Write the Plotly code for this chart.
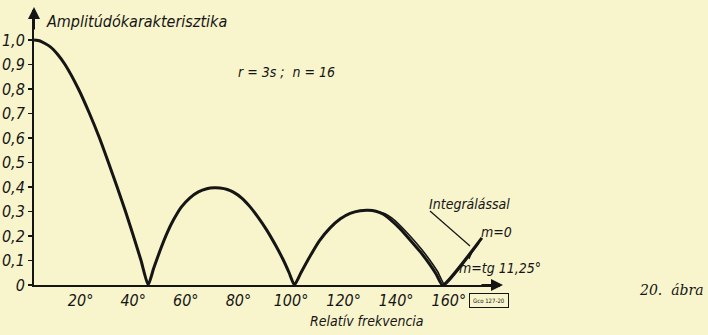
import plotly.graph_objects as go

# ---------------- data ----------------
# main curve: relative frequency (degrees) vs amplitude
main_deg = [0, 2.3, 6.1, 9.1, 11.8, 16.9, 21.1, 24.9, 28.3, 31.6, 34.8, 37.8, 40.7, 43.4,
            45.5, 47.9, 50.5, 53.0, 56.0, 59.3, 62.5, 65.7, 68.5, 70.7, 73.5, 75.8, 79.0,
            82.1, 85.3, 88.5, 91.7, 94.8, 97.0, 99.0,
            101.5, 104.9, 108.5, 112.5, 116.5, 120.2, 124.0, 127.0, 130.0, 133.0, 135.4,
            139.0, 143.0, 147.0, 150.6, 153.0, 155.3, 170.3]
main_amp = [1.0, 0.996, 0.973, 0.94, 0.90, 0.80, 0.70, 0.60, 0.50, 0.40, 0.30, 0.20, 0.10, 0.0,
            0.068, 0.14, 0.21, 0.265, 0.318, 0.356, 0.38, 0.393, 0.397, 0.396, 0.39, 0.379, 0.355,
            0.32, 0.275, 0.224, 0.165, 0.102, 0.05, 0.0,
            0.05, 0.116, 0.18, 0.232, 0.27, 0.292, 0.303, 0.305, 0.301, 0.288, 0.268,
            0.232, 0.184, 0.134, 0.082, 0.043, 0.0, 0.192]

# second curve near the third zero (Integrálással / m = tg 11,25°)
integ_deg = [131.0, 133.5, 136.0, 139.5, 143.5, 147.5, 151.0, 153.5, 156.2, 169.2]
integ_amp = [0.298, 0.291, 0.274, 0.240, 0.194, 0.144, 0.094, 0.054, 0.0, 0.171]

x_tick_vals = [20, 40, 60, 80, 100, 120, 140, 160]
x_tick_text = ["20°", "40°", "60°", "80°", "100°", "120°", "140°", "160°"]
y_tick_vals = [0, 0.1, 0.2, 0.3, 0.4, 0.5, 0.6, 0.7, 0.8, 0.9, 1.0]
y_tick_text = ["0", "0,1", "0,2", "0,3", "0,4", "0,5", "0,6", "0,7", "0,8", "0,9", "1,0"]

# ---------------- layout geometry ----------------
W_PX, H_PX = 708, 335
M_L, M_R, M_T, M_B = 34, 208, 10, 50
PLOT_W = W_PX - M_L - M_R
PLOT_H = H_PX - M_T - M_B
X_SCALE = 2.63      # px per degree
Y_SCALE = 245.0     # px per unit amplitude
X_MAX = PLOT_W / X_SCALE
Y_MAX = PLOT_H / Y_SCALE


def px(x, y):
    """pixel position (from top-left of page) -> paper coords"""
    return (x - M_L) / PLOT_W, (H_PX - M_B - y) / PLOT_H


INK = "#151515"
PAPER = "#f8f4cc"
FONT = "DejaVu Sans Condensed, Liberation Sans Narrow, DejaVu Sans, sans-serif"

fig = go.Figure()
fig.add_trace(go.Scatter(x=main_deg, y=main_amp, mode="lines",
                         line=dict(color=INK, width=3, shape="spline", smoothing=0.5),
                         hoverinfo="skip", showlegend=False))
fig.add_trace(go.Scatter(x=integ_deg, y=integ_amp, mode="lines",
                         line=dict(color=INK, width=1.6, shape="spline", smoothing=0.4),
                         hoverinfo="skip", showlegend=False))

fig.update_layout(
    width=W_PX, height=H_PX,
    margin=dict(l=M_L, r=M_R, t=M_T, b=M_B, autoexpand=False),
    paper_bgcolor=PAPER, plot_bgcolor=PAPER,
    font=dict(family=FONT, color=INK, size=15),
    showlegend=False,
)
fig.update_xaxes(range=[0, X_MAX], showgrid=False, zeroline=False,
                 showline=True, linecolor=INK, linewidth=2,
                 tickvals=x_tick_vals, ticktext=x_tick_text, ticks="",
                 ticklabelshift=-6, ticklabelstandoff=0,
                 tickfont=dict(family=FONT, size=16, style="italic", color=INK))
fig.update_yaxes(range=[0, Y_MAX], showgrid=False, zeroline=False,
                 showline=True, linecolor=INK, linewidth=2,
                 tickvals=y_tick_vals, ticktext=y_tick_text, ticks="outside",
                 ticklen=4, tickwidth=1.5, tickcolor=INK, ticklabelstandoff=0,
                 tickfont=dict(family=FONT, size=16, style="italic", color=INK))

annotations = []


def text(s, x, y, size=15, anchor="center", family=FONT, style="italic"):
    xp, yp = px(x, y)
    annotations.append(dict(text=s, x=xp, y=yp, xref="paper", yref="paper",
                            xanchor=anchor, yanchor="middle", showarrow=False,
                            font=dict(family=family, size=size, style=style, color=INK)))


text("Amplitúdókarakterisztika", 44, 21, size=16, anchor="left")
text("r = 3s ;  n = 16", 286, 72, size=14)
text("Relatív frekvencia", 367, 321, size=14)
text("Integrálással", 469, 204, size=14)
text("m=0", 496, 232, size=14)
text("m=tg 11,25°", 500, 268, size=14)
text("20.  ábra", 671, 290, size=14, family="DejaVu Serif, Liberation Serif, serif")

# figure code box
bx, by = px(489, 300)
annotations.append(dict(text="Gco 127-20", x=bx, y=by, xref="paper", yref="paper",
                        xanchor="center", yanchor="middle",
                        showarrow=False, font=dict(family=FONT, size=6, color=INK),
                        bordercolor=INK, borderwidth=1, borderpad=3))

# axis arrowheads (tip in paper coords, tail offset in pixels)
for (tx, ty), (dx, dy) in [((34, 7), (0, 24)), ((503, 285), (-23, 0))]:
    t = px(tx, ty)
    annotations.append(dict(text="", x=t[0], y=t[1], ax=dx, ay=dy,
                            xref="paper", yref="paper", axref="pixel", ayref="pixel",
                            showarrow=True, arrowhead=2, arrowsize=1.2, arrowwidth=2,
                            arrowcolor=INK))
fig.update_layout(annotations=annotations)

# leader lines
shapes = []
for (x0, y0), (x1, y1) in [((430, 211), (470, 246)), ((469, 259), (472, 252))]:
    a = px(x0, y0)
    b = px(x1, y1)
    shapes.append(dict(type="line", xref="paper", yref="paper",
                       x0=a[0], y0=a[1], x1=b[0], y1=b[1],
                       line=dict(color=INK, width=1.2)))
fig.update_layout(shapes=shapes)

fig.write_html(
    "out.html",
    config={"displayModeBar": False, "staticPlot": True},
    post_script="document.body.style.margin='0px';"
                "document.body.style.background='" + PAPER + "';"
                "document.body.style.overflow='hidden';",
)
